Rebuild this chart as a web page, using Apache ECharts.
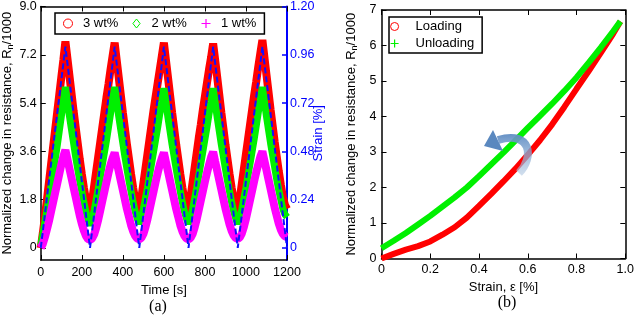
<!DOCTYPE html>
<html>
<head>
<meta charset="utf-8">
<script src="https://cdn.jsdelivr.net/npm/echarts@6/dist/echarts.min.js"></script>
<style>html,body{margin:0;padding:0;background:#fff}#c{width:637px;height:317px}</style>
</head>
<body>
<div id="c"></div>
<script>
// ---------- Panel (a) data ----------
const timeA = [0,10,20,30,40,50,60,70,80,90,100,110,120,130,140,150,160,170,180,190,200,210,220,230,240,
250,260,270,280,290,300,310,320,330,340,350,360,370,380,390,400,410,420,430,440,450,460,470,480,
490,500,510,520,530,540,550,560,570,580,590,600,610,620,630,640,650,660,670,680,690,700,710,720,
730,740,750,760,770,780,790,800,810,820,830,840,850,860,870,880,890,900,910,920,930,940,950,960,
970,980,990,1000,1010,1020,1030,1040,1050,1060,1070,1080,1090,1100,1110,1120,1130,1140,1150,1160,1170,1180,1190,1200];
const wt3 = [
0.00,0.55,1.15,1.80,2.45,3.10,3.75,4.40,5.05,5.70,6.35,7.00,7.70,
7.05,6.40,5.75,5.10,4.50,3.90,3.30,2.75,2.25,1.80,1.45,1.25,
1.75,2.30,2.85,3.40,3.95,4.50,5.05,5.60,6.10,6.65,7.15,7.65,
7.00,6.35,5.70,5.05,4.45,3.85,3.30,2.75,2.25,1.80,1.50,1.35,
1.85,2.40,2.95,3.50,4.05,4.60,5.15,5.65,6.15,6.65,7.15,7.65,
7.00,6.35,5.70,5.05,4.45,3.85,3.30,2.75,2.25,1.80,1.50,1.35,
1.90,2.45,3.00,3.55,4.10,4.60,5.15,5.65,6.15,6.65,7.10,7.62,
7.00,6.35,5.70,5.05,4.45,3.85,3.30,2.75,2.25,1.80,1.50,1.35,
1.85,2.40,2.95,3.50,4.05,4.60,5.15,5.70,6.20,6.75,7.25,7.75,
7.10,6.45,5.80,5.15,4.55,3.95,3.40,2.85,2.35,1.90,1.60,1.45];
const wt2 = [
0.10,0.50,0.95,1.40,1.85,2.30,2.80,3.30,3.80,4.35,4.90,5.45,6.00,
5.45,4.90,4.40,3.90,3.40,2.95,2.50,2.10,1.70,1.35,1.05,0.85,
1.05,1.40,1.80,2.20,2.65,3.10,3.55,4.00,4.50,5.00,5.50,6.00,
5.45,4.90,4.40,3.90,3.40,2.95,2.50,2.10,1.70,1.35,1.10,0.90,
1.10,1.45,1.85,2.25,2.70,3.15,3.60,4.05,4.50,5.00,5.45,5.95,
5.40,4.85,4.35,3.85,3.40,2.95,2.50,2.10,1.70,1.35,1.10,0.90,
1.10,1.45,1.85,2.25,2.70,3.15,3.60,4.05,4.50,5.00,5.45,5.95,
5.40,4.85,4.35,3.85,3.40,2.95,2.50,2.10,1.70,1.35,1.10,0.90,
1.10,1.45,1.85,2.25,2.70,3.15,3.60,4.05,4.55,5.05,5.50,6.00,
5.45,4.90,4.40,3.90,3.45,3.00,2.55,2.15,1.80,1.45,1.25,1.15];
const wt1 = [
0.00,0.15,0.40,0.70,1.00,1.35,1.70,2.05,2.40,2.75,3.10,3.40,3.65,
3.30,2.95,2.60,2.25,1.90,1.55,1.20,0.90,0.65,0.45,0.33,0.30,
0.35,0.50,0.75,1.05,1.40,1.75,2.10,2.45,2.80,3.10,3.35,3.55,
3.20,2.85,2.50,2.15,1.80,1.45,1.15,0.85,0.62,0.45,0.35,0.32,
0.37,0.52,0.77,1.07,1.42,1.77,2.12,2.47,2.80,3.10,3.35,3.55,
3.20,2.85,2.50,2.15,1.80,1.45,1.15,0.85,0.62,0.45,0.35,0.32,
0.37,0.52,0.77,1.07,1.42,1.77,2.12,2.47,2.80,3.10,3.38,3.58,
3.22,2.87,2.52,2.17,1.82,1.47,1.17,0.87,0.64,0.47,0.37,0.34,
0.39,0.54,0.79,1.09,1.44,1.79,2.14,2.49,2.82,3.12,3.40,3.60,
3.25,2.90,2.55,2.20,1.85,1.50,1.20,0.90,0.68,0.52,0.43,0.40];
const strainTime = [0,120,240,360,480,600,720,840,960,1080,1200];
const strainVal  = [0,1.0,0,1.0,0,1.0,0,1.0,0,1.0,0];
const leftTicksA  = [0,1.8,3.6,5.4,7.2,9.0];
const rightTicksA = [0,0.24,0.48,0.72,0.96,1.20];
const namesA = ['3 wt%','2 wt%','1 wt%'];

// ---------- Panel (b) data ----------
const strainB = [0,0.05,0.1,0.15,0.2,0.25,0.3,0.35,0.4,0.45,0.5,0.55,0.6,0.65,0.7,0.75,0.8,0.85,0.9,0.95,0.98];
const loadingB = [0.00,0.13,0.25,0.35,0.48,0.67,0.88,1.15,1.48,1.82,2.17,2.53,2.92,3.33,3.78,4.27,4.78,5.28,5.80,6.33,6.68];
const unloadingB = [0.29,0.50,0.72,0.96,1.20,1.46,1.72,2.00,2.32,2.65,2.98,3.33,3.68,4.02,4.36,4.72,5.10,5.52,5.95,6.40,6.68];
const namesB = ['Loading','Unloading'];

const FONT = 'Liberation Sans, Arial, sans-serif';
const chart = echarts.init(document.getElementById('c'), null, {renderer:'canvas'});
const black = '#000';
const blue = '#0000ff';
const RED = '#ff0000', GREEN = '#00f000', MAG = '#ff00ff';
const plus = 'path://M5 0L5 10M0 5L10 5';
const diamond = 'path://M5 0L9 5L5 10L1 5Z';
const LFS = 12.5;

function axisBase(color){
  return {
    axisLine:{show:true,onZero:false,lineStyle:{color:color,width:1.5}},
    axisTick:{show:true,inside:true,length:5,lineStyle:{color:color,width:1}},
    splitLine:{show:false},
    axisLabel:{color:color,fontSize:LFS,fontFamily:FONT}
  };
}
function merge(a,b){return Object.assign({},a,b);}
const fmt0 = v => String(v);
const fmt1 = v => (v===0?'0':v.toFixed(1));
const fmt2 = v => (v===0?'0':v.toFixed(2));

const option = {
  animation:false,
  textStyle:{fontFamily:FONT},
  grid:[
    {left:35, top:5, width:252, height:255},
    {left:381.5, top:10, width:245, height:248.5}
  ],
  xAxis:[
    merge(axisBase(black),{gridIndex:0,type:'value',min:0,max:1200,interval:200,position:'bottom',
      axisLabel:{color:black,fontSize:LFS,fontFamily:FONT,margin:6,formatter:fmt0},
      name:'Time [s]',nameLocation:'middle',nameGap:19,nameTextStyle:{color:black,fontSize:13,fontFamily:FONT}}),
    merge(axisBase(black),{gridIndex:0,type:'value',min:0,max:1200,interval:200,position:'top',axisLabel:{show:false}}),
    merge(axisBase(black),{gridIndex:1,type:'value',min:0,max:1.0,interval:0.2,position:'bottom',
      axisLabel:{color:black,fontSize:LFS,fontFamily:FONT,margin:5,formatter:fmt1},
      name:'Strain, ε [%]',nameLocation:'middle',nameGap:20,nameTextStyle:{color:black,fontSize:13,fontFamily:FONT}}),
    merge(axisBase(black),{gridIndex:1,type:'value',min:0,max:1.0,interval:0.2,position:'top',axisLabel:{show:false}})
  ],
  yAxis:[
    merge(axisBase(black),{gridIndex:0,type:'value',min:-0.45,max:9.0,position:'left',
      axisTick:{show:true,inside:true,length:5,customValues:leftTicksA,lineStyle:{color:black}},
      axisLabel:{color:black,fontSize:LFS,fontFamily:FONT,margin:4,customValues:leftTicksA,formatter:fmt1},
      name:'Normalized change in resistance, R{s|n}/1000',nameLocation:'middle',nameGap:19,nameRotate:90,
      nameTextStyle:{color:black,fontSize:13,fontFamily:FONT,rich:{s:{fontSize:9,fontFamily:FONT,color:black,padding:[7,0,0,0]}}}}),
    merge(axisBase(blue),{gridIndex:0,type:'value',min:-0.06,max:1.2,position:'right',
      axisLine:{show:true,onZero:false,lineStyle:{color:blue,width:2}},
      axisTick:{show:true,inside:true,length:5,customValues:rightTicksA,lineStyle:{color:blue,width:1.5}},
      axisLabel:{color:blue,fontSize:LFS,fontFamily:FONT,margin:3,customValues:rightTicksA,formatter:fmt2},
      name:'Strain [%]',nameLocation:'middle',nameGap:25,nameRotate:90,nameMoveOverlap:false,
      nameTextStyle:{color:blue,fontSize:13,fontFamily:FONT}}),
    merge(axisBase(black),{gridIndex:1,type:'value',min:0,max:7,interval:1,position:'left',
      axisLabel:{color:black,fontSize:LFS,fontFamily:FONT,margin:5},
      name:'Normalized change in resistance, R{s|n}/1000',nameLocation:'middle',nameGap:22,nameRotate:90,
      nameTextStyle:{color:black,fontSize:13,fontFamily:FONT,rich:{s:{fontSize:9,fontFamily:FONT,color:black,padding:[7,0,0,0]}}}}),
    merge(axisBase(black),{gridIndex:1,type:'value',min:0,max:7,interval:1,position:'right',axisLabel:{show:false}})
  ],
  legend:[
    {data:[
       {name:namesA[0],icon:'circle',itemStyle:{color:'rgba(0,0,0,0)',borderColor:RED,borderWidth:1}},
       {name:namesA[1],icon:diamond,itemStyle:{color:'rgba(0,0,0,0)',borderColor:GREEN,borderWidth:1}},
       {name:namesA[2],icon:plus,itemStyle:{color:'rgba(0,0,0,0)',borderColor:MAG,borderWidth:1.2}}],
     left:55,top:13,orient:'horizontal',padding:[4,8,4,8],itemWidth:20,itemHeight:9,itemGap:14,
     selectedMode:false,borderColor:black,borderWidth:1.5,backgroundColor:'#fff',symbolKeepAspect:true,
     textStyle:{fontSize:13,color:black,fontFamily:FONT}},
    {data:[
       {name:namesB[0],icon:'circle',itemStyle:{color:'rgba(0,0,0,0)',borderColor:RED,borderWidth:1}},
       {name:namesB[1],icon:plus,itemStyle:{color:'rgba(0,0,0,0)',borderColor:GREEN,borderWidth:1.2}}],
     left:389,top:17,orient:'vertical',padding:[3,8,3,1],itemWidth:20,itemHeight:8,itemGap:4,
     selectedMode:false,borderColor:black,borderWidth:1.5,backgroundColor:'#fff',symbolKeepAspect:true,
     textStyle:{fontSize:13,color:black,fontFamily:FONT,padding:[0,0,0,6]}}
  ],
  title:[
    {text:'(a)',left:158,top:299,textAlign:'center',padding:0,
     textStyle:{fontFamily:'Liberation Serif, Times New Roman, serif',fontSize:16,fontWeight:'normal',color:black}},
    {text:'(b)',left:507,top:295,textAlign:'center',padding:0,
     textStyle:{fontFamily:'Liberation Serif, Times New Roman, serif',fontSize:16,fontWeight:'normal',color:black}}
  ],
  series:[
    {name:namesA[0],type:'line',xAxisIndex:0,yAxisIndex:0,showSymbol:false,
     data:timeA.map((t,i)=>[t,wt3[i]]),lineStyle:{color:RED,width:8},itemStyle:{color:RED},z:2},
    {name:namesA[1],type:'line',xAxisIndex:0,yAxisIndex:0,showSymbol:false,
     data:timeA.map((t,i)=>[t,wt2[i]]),lineStyle:{color:GREEN,width:7},itemStyle:{color:GREEN},z:3},
    {name:namesA[2],type:'line',xAxisIndex:0,yAxisIndex:0,showSymbol:false,
     data:timeA.map((t,i)=>[t,wt1[i]]),lineStyle:{color:MAG,width:8},itemStyle:{color:MAG},z:4},
    {name:'Strain',type:'line',xAxisIndex:0,yAxisIndex:1,showSymbol:false,
     data:strainTime.map((t,i)=>[t,strainVal[i]]),lineStyle:{color:'#1010ff',width:2,type:[6,3]},z:5},
    {name:namesB[0],type:'line',xAxisIndex:2,yAxisIndex:2,showSymbol:false,
     data:strainB.map((x,i)=>[x,loadingB[i]]),lineStyle:{color:RED,width:6},itemStyle:{color:RED},z:2},
    {name:namesB[1],type:'line',xAxisIndex:2,yAxisIndex:2,showSymbol:false,
     data:strainB.map((x,i)=>[x,unloadingB[i]]),lineStyle:{color:GREEN,width:6},itemStyle:{color:GREEN},z:3}
  ],
  graphic:[
    {type:'bezierCurve',z:100,
     shape:{x1:519,y1:173,cpx1:534,cpy1:158,cpx2:532,cpy2:130,x2:498,y2:140},
     style:{fill:'none',lineWidth:8,
       stroke:new echarts.graphic.LinearGradient(0,1,0,0,[
         {offset:0,color:'rgba(185,205,228,0.6)'},{offset:1,color:'rgba(95,140,195,0.95)'}])}},
    {type:'polygon',z:101,shape:{points:[[493,130],[484,146],[503,151]]},
     style:{fill:'#5a88bf'}}
  ]
};
chart.setOption(option);
</script>
</body>
</html>
